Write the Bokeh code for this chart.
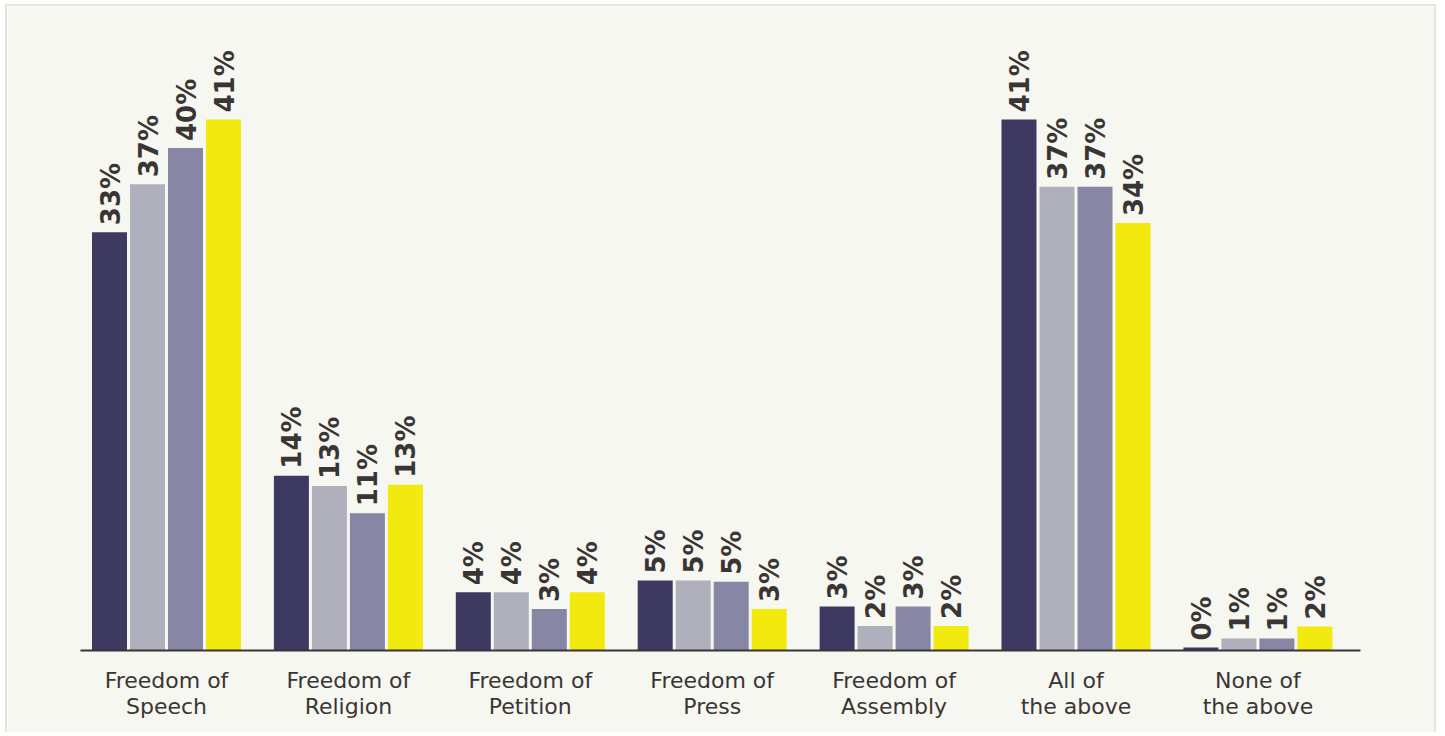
import numpy as np
from bokeh.plotting import figure
from bokeh.models import ColumnDataSource, FixedTicker, Range1d
from bokeh.core.properties import value
from bokeh.embed import file_html
from bokeh.resources import INLINE

categories = ["Freedom of\nSpeech", "Freedom of\nReligion", "Freedom of\nPetition",
              "Freedom of\nPress", "Freedom of\nAssembly", "All of\nthe above", "None of\nthe above"]
series_a = [32.3, 13.5, 4.5, 5.4, 3.4, 41.0, 0.23]
series_b = [36.0, 12.7, 4.5, 5.4, 1.9, 35.8, 0.93]
series_c = [38.8, 10.6, 3.2, 5.3, 3.4, 35.8, 0.93]
series_d = [41.0, 12.8, 4.5, 3.2, 1.9, 33.0, 1.85]
labels_a = ["33%", "14%", "4%", "5%", "3%", "41%", "0%"]
labels_b = ["37%", "13%", "4%", "5%", "2%", "37%", "1%"]
labels_c = ["40%", "11%", "3%", "5%", "3%", "37%", "1%"]
labels_d = ["41%", "13%", "4%", "3%", "2%", "34%", "2%"]
colors = ["#3d3960", "#b0afbc", "#8786a4", "#f2e90f"]

series = [series_a, series_b, series_c, series_d]
labels = [labels_a, labels_b, labels_c, labels_d]

px_per_unit = 181.9
step = 38 / px_per_unit
bw = 35 / px_per_unit

p = figure(width=1431, height=728, output_backend="svg", toolbar_location=None,
           x_range=Range1d(-0.4728, 6.564), y_range=Range1d(0, 47.1),
           min_border_left=73, min_border_right=78, min_border_top=34, min_border_bottom=84)
p.background_fill_color = "#f6f7f0"
p.border_fill_color = "#f6f7f0"
p.outline_line_color = None
p.grid.visible = False
p.yaxis.visible = False
p.styles = {"border-top": "2px solid #e4e5dd", "border-left": "2px solid #e4e5dd",
            "border-right": "2px solid #e4e5dd", "margin-left": "5px", "margin-top": "4px"}

idx = np.arange(len(categories))
for j, (vals, labs, col) in enumerate(zip(series, labels, colors)):
    xs = idx + (j - 1.5) * step
    src = ColumnDataSource(dict(x=xs, top=vals, lab=labs))
    p.vbar(x="x", top="top", bottom=0, width=bw, source=src, fill_color=col, line_color=None)
    p.text(x="x", y="top", text="lab", source=src, angle=np.pi / 2,
           text_align="left", text_baseline="middle", x_offset=1, y_offset=-7,
           text_font=value("DejaVu Sans"), text_font_style="bold",
           text_font_size="26px", text_color="#3a3535")

xa = p.xaxis[0]
xa.ticker = FixedTicker(ticks=list(idx))
xa.major_label_overrides = {int(i): c for i, c in zip(idx, categories)}
xa.major_tick_line_color = None
xa.minor_tick_line_color = None
xa.axis_line_color = "#3a3535"
xa.axis_line_width = 2
xa.major_label_standoff = 11
xa.major_label_text_font = "DejaVu Sans"
xa.major_label_text_font_size = "22px"
xa.major_label_text_color = "#3a3535"
xa.major_label_text_line_height = 1.05

open("out.html", "w").write(file_html(p, INLINE))
